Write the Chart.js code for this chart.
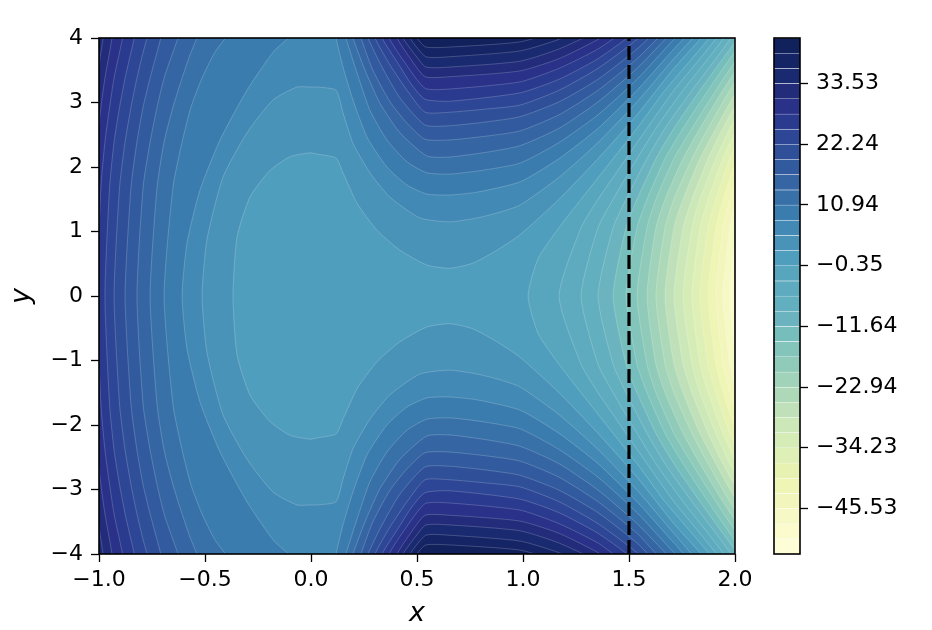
<!DOCTYPE html>
<html>
<head>
<meta charset="utf-8">
<style>
  html, body { margin: 0; background: #fff; }
  canvas { position: absolute; left: 0; top: 0; }
</style>
<script src="https://cdn.jsdelivr.net/npm/chart.js@4"></script>
</head>
<body>
<canvas id="main" width="932" height="630"></canvas>
<canvas id="cbar" width="932" height="630"></canvas>
<script>
const xTicks = [-1, -0.5, 0, 0.5, 1, 1.5, 2];
const yTicks = [-4, -3, -2, -1, 0, 1, 2, 3, 4];
const cbarTicks = [-45.53, -34.23, -22.94, -11.64, -0.35, 10.94, 22.24, 33.53];
const dashX = [1.5, 1.5];
const dashY = [-4, 4];

// contour levels, bottom to top of the colorbar
const levels = [-54, -51.18, -48.35, -45.53, -42.71, -39.88, -37.06, -34.23, -31.41, -28.59, -25.76,
  -22.94, -20.12, -17.29, -14.47, -11.64, -8.82, -6, -3.18, -0.35, 2.47, 5.29, 8.12, 10.94, 13.76,
  16.59, 19.41, 22.24, 25.06, 27.88, 30.71, 33.53, 36.35, 39.18, 42];

const bandColors = ['#fdfdd6', '#fbfbce', '#f6f8c5', '#f3f6bc', '#eff5b4', '#e6f1b2', '#dff0b6', '#d5ecb7',
  '#cde8b8', '#bfe0b9', '#aed9b9', '#a0d3ba', '#90cbba', '#83c5ba', '#76bebc', '#6ab3bf', '#62afc0',
  '#5eabbf', '#58a6bd', '#509ebd', '#4a93b8', '#4289b5', '#3b7cae', '#3871a8', '#3566a3', '#315b9e',
  '#2f5099', '#2d4695', '#2a3a8e', '#293189', '#222c7a', '#1a2a70', '#152464', '#10215c'];

// Contours on the right of the saddle, lowest level first (index = level index).
const right = {
  2: [[1.976,0],[2.009,1.06],[2.042,1.5],[2.108,2.13]],
  3: [[1.943,0],[1.976,1.06],[2.009,1.5],[2.075,2.13]],
  4: [[1.910,0],[1.943,1.06],[1.976,1.5],[2.042,2.13],[2.108,2.6]],
  5: [[1.873,0],[1.910,1.06],[1.943,1.5],[2.009,2.13],[2.075,2.6]],
  6: [[1.835,0],[1.873,1.06],[1.910,1.5],[1.976,2.13],[2.042,2.6],[2.14,3.19]],
  7: [[1.797,0],[1.835,1.06],[1.873,1.5],[1.943,2.13],[2.009,2.6],[2.108,3.19]],
  8: [[1.755,0],[1.797,1.06],[1.835,1.5],[1.910,2.13],[1.976,2.6],[2.075,3.19]],
  9: [[1.712,0],[1.755,1.06],[1.797,1.5],[1.873,2.13],[1.943,2.6],[2.042,3.19],[2.14,3.68]],
  10: [[1.670,0],[1.712,1.06],[1.755,1.5],[1.835,2.13],[1.910,2.6],[2.009,3.19],[2.108,3.68]],
  11: [[1.627,0],[1.670,1.06],[1.712,1.5],[1.797,2.13],[1.873,2.6],[1.976,3.19],[2.075,3.68]],
  12: [[1.585,0],[1.627,1.06],[1.670,1.5],[1.755,2.13],[1.835,2.6],[1.943,3.19],[2.042,3.68],[2.14,4.12]],
  13: [[1.538,0],[1.585,1.06],[1.627,1.5],[1.712,2.13],[1.797,2.6],[1.910,3.19],[2.009,3.68],[2.108,4.12]],
  14: [[1.486,0],[1.538,1.06],[1.585,1.5],[1.670,2.13],[1.755,2.6],[1.873,3.19],[1.976,3.68],[2.075,4.12]],
  15: [[1.425,0],[1.486,1.06],[1.538,1.5],[1.627,2.13],[1.712,2.6],[1.835,3.19],[1.943,3.68],[2.042,4.12],[2.142,4.51]],
  16: [[1.354,0],[1.425,1.06],[1.486,1.5],[1.585,2.13],[1.670,2.6],[1.797,3.19],[1.910,3.68],[2.009,4.12],[2.108,4.51]],
  17: [[1.274,0],[1.354,1.06],[1.425,1.5],[1.538,2.13],[1.627,2.6],[1.755,3.19],[1.873,3.68],[1.976,4.12],[2.075,4.51]],
  18: [[1.170,0],[1.274,1.06],[1.354,1.5],[1.486,2.13],[1.585,2.6],[1.712,3.19],[1.835,3.68],[1.943,4.12],[2.042,4.51]],
  19: [[1.024,0],[1.071,0.58],[1.170,1.06],[1.274,1.5],[1.425,2.13],[1.538,2.6],[1.670,3.19],[1.797,3.68],[1.910,4.12],[2.009,4.51]]
};

// Contours that wrap over the central basin and then run to the top edge
const wrap = {
  20: [[-0.368,0],[-0.349,0.915],[-0.288,1.535],[-0.193,1.95],[-0.099,2.16],[-0.005,2.22],[0.028,2.2],[0.118,2.14],
    [0.151,1.91],[0.217,1.44],[0.311,1.02],[0.42,0.71],[0.547,0.48],[0.656,0.43],[0.764,0.51],[0.877,0.71],[0.986,0.95],
    [1.17,1.5],[1.354,2.13],[1.538,2.81],[1.712,3.53],[1.91,4.25],[2.009,4.63]],
  21: [[-0.514,0],[-0.491,0.87],[-0.415,1.845],[-0.302,2.53],[-0.179,3.04],[-0.066,3.24],[-0.005,3.24],[0.028,3.24],[0.118,3.19],
    [0.151,2.84],[0.198,2.37],[0.278,1.91],[0.373,1.53],[0.514,1.21],[0.656,1.15],[0.783,1.21],[0.892,1.3],[0.986,1.41],
    [1.17,1.84],[1.354,2.38],[1.538,3.01],[1.712,3.68],[1.91,4.38]]
};

// Left hand contours for the higher levels
const left = {
  22: [[-0.608,0],[-0.585,0.82],[-0.524,1.64],[-0.429,2.42],[-0.302,3.19],[-0.179,3.78],[-0.113,3.98],[-0.052,4.15],[0.03,4.4]],
  23: [[-0.693,0],[-0.651,1.69],[-0.608,2.39],[-0.566,2.93],[-0.514,3.38],[-0.453,3.78],[-0.368,4.14],[-0.25,4.5]],
  24: [[-0.759,0],[-0.726,1.69],[-0.693,2.39],[-0.651,2.93],[-0.608,3.38],[-0.566,3.78],[-0.514,4.14],[-0.4,4.5]],
  25: [[-0.821,0],[-0.792,1.69],[-0.759,2.39],[-0.726,2.93],[-0.693,3.38],[-0.651,3.78],[-0.608,4.14],[-0.5,4.5]],
  26: [[-0.877,0],[-0.849,1.69],[-0.821,2.39],[-0.792,2.93],[-0.759,3.38],[-0.726,3.78],[-0.693,4.14],[-0.6,4.5]],
  27: [[-0.929,0],[-0.903,1.69],[-0.877,2.39],[-0.849,2.93],[-0.821,3.38],[-0.792,3.78],[-0.759,4.14],[-0.7,4.5]],
  28: [[-0.972,0],[-0.95,1.69],[-0.929,2.39],[-0.903,2.93],[-0.877,3.38],[-0.849,3.78],[-0.821,4.14],[-0.76,4.5]],
  29: [[-1.009,0],[-0.991,1.69],[-0.972,2.39],[-0.95,2.93],[-0.929,3.38],[-0.903,3.78],[-0.877,4.14],[-0.82,4.5]],
  30: [[-1.047,0],[-1.028,1.69],[-1.009,2.39],[-0.991,2.93],[-0.972,3.38],[-0.95,3.78],[-0.929,4.14],[-0.88,4.5]],
  31: [[-1.08,0],[-1.065,1.69],[-1.047,2.39],[-1.028,2.93],[-1.009,3.38],[-0.991,3.78],[-0.972,4.14],[-0.93,4.5]]
};

// Caps above the saddle, from the top edge on the left round to the top edge on the right
const cap = {
  22: [[0.105,4.25],[0.118,4],[0.151,3.55],[0.198,3.04],[0.264,2.465],[0.358,2],[0.453,1.72],[0.547,1.58],[0.656,1.566],[0.783,1.61],[0.986,1.77],[1.17,2.13],[1.354,2.6],[1.538,3.19],[1.712,3.83],[1.91,4.51]],
  23: [[0.15,4.25],[0.165,4],[0.217,3.46],[0.278,2.88],[0.358,2.42],[0.453,2.08],[0.547,1.91],[0.656,1.89],[0.811,1.95],[0.986,2.06],[1.17,2.38],[1.354,2.81],[1.538,3.36],[1.712,3.98],[1.91,4.63]],
  24: [[0.18,4.25],[0.198,4],[0.255,3.5],[0.325,2.99],[0.42,2.53],[0.547,2.17],[0.656,2.155],[0.83,2.23],[0.986,2.33],[1.17,2.6],[1.354,3.01],[1.538,3.53],[1.712,4.12],[1.91,4.75]],
  25: [[0.22,4.25],[0.236,4],[0.292,3.5],[0.373,3.01],[0.453,2.68],[0.538,2.43],[0.656,2.42],[0.83,2.48],[0.986,2.56],[1.17,2.81],[1.354,3.19],[1.538,3.68],[1.712,4.25]],
  26: [[0.25,4.25],[0.269,4],[0.335,3.55],[0.42,3.07],[0.538,2.65],[0.656,2.64],[0.83,2.7],[0.986,2.78],[1.17,3.01],[1.354,3.36],[1.538,3.83],[1.712,4.38]],
  27: [[0.285,4.25],[0.302,4],[0.373,3.58],[0.453,3.19],[0.538,2.85],[0.656,2.85],[0.83,2.9],[0.986,2.96],[1.17,3.19],[1.354,3.53],[1.538,3.98],[1.712,4.51]],
  28: [[0.315,4.25],[0.335,4],[0.406,3.63],[0.476,3.27],[0.538,3.05],[0.656,3.02],[0.986,3.15],[1.17,3.36],[1.354,3.68],[1.538,4.12],[1.65,4.5]],
  29: [[0.35,4.25],[0.368,4],[0.434,3.66],[0.538,3.22],[0.656,3.21],[0.986,3.32],[1.17,3.53],[1.354,3.83],[1.538,4.25]],
  30: [[0.385,4.25],[0.406,4],[0.467,3.69],[0.538,3.4],[0.656,3.4],[0.986,3.49],[1.17,3.68],[1.354,3.98],[1.538,4.38]],
  31: [[0.41,4.25],[0.434,4],[0.491,3.74],[0.542,3.55],[0.656,3.55],[0.986,3.64],[1.17,3.83],[1.354,4.12],[1.5,4.5]],
  32: [[0.44,4.25],[0.467,4],[0.542,3.71],[0.656,3.71],[0.986,3.8],[1.17,3.98],[1.354,4.25]],
  33: [[0.475,4.25],[0.5,4],[0.542,3.86],[0.656,3.86],[0.986,3.94],[1.17,4.12],[1.354,4.38]]
};

const flip = p => [p[0], -p[1]];
const rev = a => a.slice().reverse();
const offRight = [[2.6, -5.5], [2.6, 5.5]];
const offLeft = [[-1.5, 5.5], [-1.5, -5.5]];

// region where the field is below level k, walked as one closed outline
function outline(k) {
  if (right[k] || wrap[k]) {
    const u = right[k] || wrap[k];
    return [...rev(u), ...u.slice(1).map(flip), ...offRight];
  }
  const c = cap[k];
  const middle = left[k]
    ? [...rev(left[k]), ...left[k].slice(1).map(flip)]
    : offLeft;
  return [...rev(c), ...middle, ...c.map(flip), ...offRight];
}

const toPoints = list => list.map(p => ({ x: p[0], y: p[1] }));

const datasets = [{
  data: dashX.map((x, i) => ({ x: x, y: dashY[i] })),
  borderColor: '#000',
  borderWidth: 3.2,
  borderDash: [14, 5],
  pointRadius: 0,
  showLine: true,
  fill: false
}];

for (let k = 2; k <= 33; k++) {
  datasets.push({
    data: toPoints(outline(k)),
    showLine: true,
    pointRadius: 0,
    tension: 0.2,
    capBezierPoints: false,
    borderColor: 'rgba(255,255,255,0.28)',
    borderWidth: 0.7,
    backgroundColor: bandColors[k - 1],
    fill: 'shape'
  });
}

// top band, the whole plot underneath everything else
datasets.push({
  data: toPoints([[-1.5, 5.5], [2.6, 5.5], [2.6, -5.5], [-1.5, -5.5]]),
  showLine: true,
  pointRadius: 0,
  borderWidth: 0,
  backgroundColor: bandColors[33],
  fill: 'shape'
});

const FONT = 'DejaVu Sans';
const minus = s => String(s).replace('-', '\u2212');

const frame = {
  id: 'frame',
  afterDraw(chart) {
    const a = chart.chartArea, c = chart.ctx;
    c.save();
    c.strokeStyle = '#000';
    c.lineWidth = 1.6;
    c.strokeRect(a.left, a.top, a.right - a.left, a.bottom - a.top);
    c.restore();
  }
};

new Chart(document.getElementById('main'), {
  type: 'scatter',
  data: { datasets: datasets },
  plugins: [frame],
  options: {
    responsive: false,
    animation: false,
    layout: { padding: { left: 0, top: 38, right: 197, bottom: 0 } },
    plugins: { legend: { display: false }, tooltip: { enabled: false } },
    scales: {
      x: {
        type: 'linear', min: -1, max: 2,
        afterBuildTicks: s => { s.ticks = xTicks.map(v => ({ value: v })); },
        afterFit: s => { s.height = 76; },
        grid: { drawOnChartArea: false, tickLength: 8, tickColor: '#000', tickWidth: 1.3 },
        border: { display: false },
        ticks: {
          autoSkip: false, maxRotation: 0, color: '#000', padding: 5,
          font: { family: FONT, size: 22 },
          callback: v => minus(v.toFixed(1))
        },
        title: {
          display: true, text: 'x', color: '#000',
          font: { family: FONT, size: 27, style: 'italic' },
          padding: { top: 4, bottom: 0 }
        }
      },
      y: {
        type: 'linear', min: -4, max: 4,
        afterBuildTicks: s => { s.ticks = yTicks.map(v => ({ value: v })); },
        afterFit: s => { s.width = 99; },
        grid: { drawOnChartArea: false, tickLength: 8, tickColor: '#000', tickWidth: 1.3 },
        border: { display: false },
        ticks: {
          autoSkip: false, color: '#000', padding: 8,
          font: { family: FONT, size: 22 },
          callback: v => minus(v)
        },
        title: {
          display: true, text: 'y', color: '#000',
          font: { family: FONT, size: 27, style: 'italic' },
          padding: { top: 6, bottom: 0 }
        }
      }
    }
  }
});

new Chart(document.getElementById('cbar'), {
  type: 'bar',
  data: {
    labels: [''],
    datasets: bandColors.map((color, i) => ({
      data: [[levels[i], levels[i + 1]]],
      backgroundColor: color,
      borderColor: 'rgba(255,255,255,0.25)',
      borderWidth: { top: 0.7, bottom: 0, left: 0, right: 0 },
      borderSkipped: false,
      grouped: false,
      barPercentage: 1,
      categoryPercentage: 1
    }))
  },
  plugins: [frame],
  options: {
    responsive: false,
    animation: false,
    layout: { padding: { left: 774, top: 38, right: 0, bottom: 76 } },
    plugins: { legend: { display: false }, tooltip: { enabled: false } },
    scales: {
      x: { display: false },
      y: {
        position: 'right',
        min: levels[0], max: levels[levels.length - 1],
        afterBuildTicks: s => { s.ticks = cbarTicks.map(v => ({ value: v })); },
        afterFit: s => { s.width = 132; },
        grid: { drawOnChartArea: false, tickLength: 8, tickColor: '#000', tickWidth: 1.3 },
        border: { display: false },
        ticks: {
          autoSkip: false, color: '#000', padding: 8,
          font: { family: FONT, size: 22 },
          callback: v => minus(v.toFixed(2))
        }
      }
    }
  }
});
</script>
</body>
</html>
